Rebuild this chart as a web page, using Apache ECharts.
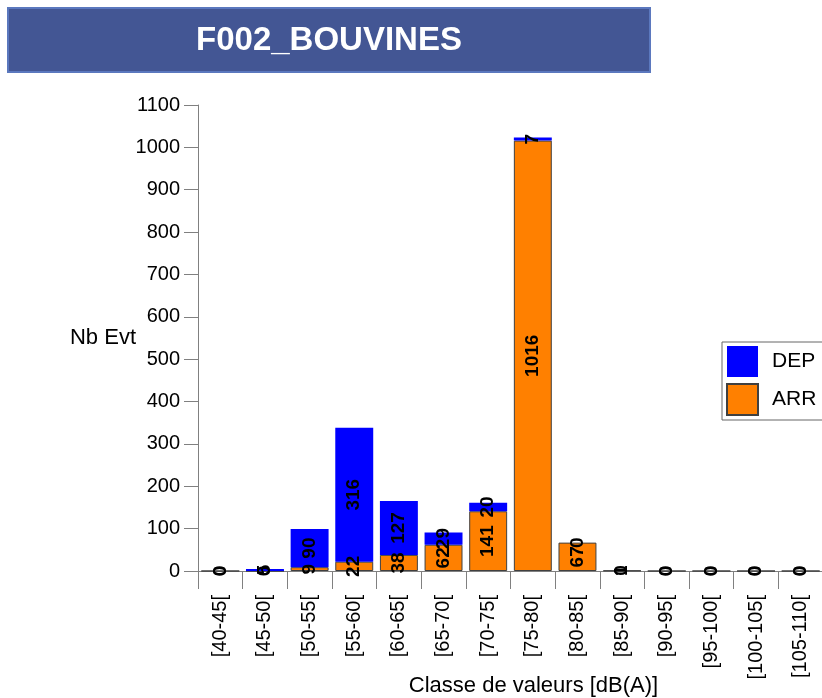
<!DOCTYPE html>
<html>
<head>
<meta charset="utf-8">
<script src="https://cdn.jsdelivr.net/npm/echarts@6/dist/echarts.min.js"></script>
<style>
  html, body { margin: 0; padding: 0; background: #fff; }
  #chart { width: 822px; height: 698px; }
</style>
</head>
<body>
<div id="chart"></div>
<script>
const titleText = 'F002_BOUVINES';
const categories = ['[40-45[', '[45-50[', '[50-55[', '[55-60[', '[60-65[', '[65-70[', '[70-75[', '[75-80[', '[80-85[', '[85-90[', '[90-95[', '[95-100[', '[100-105[', '[105-110['];
const arrValues = [0, 0, 9, 22, 38, 62, 141, 1016, 67, 1, 0, 0, 0, 0];
const depValues = [0, 5, 90, 316, 127, 29, 20, 7, 0, 0, 0, 0, 0, 0];
const yTicks = { min: 0, max: 1100, interval: 100 };

const FONT = 'Liberation Sans, Arial, sans-serif';
const chart = echarts.init(document.getElementById('chart'), null, { renderer: 'canvas' });

const labelStyle = {
  show: true,
  position: 'inside',
  rotate: 90,
  color: '#000',
  fontFamily: FONT,
  fontWeight: 'bold',
  fontSize: 19,
  formatter: p => String(p.value)
};

chart.setOption({
  animation: false,
  backgroundColor: '#fff',
  graphic: [
    {
      type: 'rect',
      shape: { x: 8, y: 8, width: 642, height: 64 },
      style: { fill: '#435694', stroke: '#5b78be', lineWidth: 2 },
      z: 10
    },
    {
      type: 'text',
      x: 329, y: 41,
      style: {
        text: titleText,
        fill: '#fff',
        font: 'bold 33px ' + FONT,
        textAlign: 'center',
        textVerticalAlign: 'middle'
      },
      z: 11
    }
  ],
  legend: {
    data: ['DEP', 'ARR'],
    orient: 'vertical',
    left: 722,
    top: 342,
    itemWidth: 31,
    itemHeight: 31,
    itemGap: 6,
    padding: [4, 30, 4, 4],
    borderColor: '#666',
    borderWidth: 1,
    backgroundColor: '#fff',
    icon: 'rect',
    textStyle: { fontFamily: FONT, fontSize: 21, color: '#000', padding: [0, 0, 0, 9] }
  },
  grid: { left: 198, top: 105, width: 625, height: 466, containLabel: false, outerBoundsMode: 'none' },
  xAxis: {
    type: 'category',
    data: categories,
    boundaryGap: true,
    name: 'Classe de valeurs [dB(A)]',
    nameLocation: 'middle',
    nameGap: 104,
    nameMoveOverlap: false,
    nameTextStyle: { fontFamily: FONT, fontSize: 22, color: '#000', padding: [0, 0, 0, 46] },
    axisLine: { show: true, lineStyle: { color: '#808080', width: 1 } },
    axisTick: { show: true, length: 18, alignWithLabel: false, lineStyle: { color: '#808080' } },
    axisLabel: { rotate: 90, margin: 24, fontFamily: FONT, fontSize: 20, color: '#000', interval: 0 },
    splitLine: { show: false }
  },
  yAxis: {
    type: 'value',
    min: yTicks.min,
    max: yTicks.max,
    interval: yTicks.interval,
    name: 'Nb Evt',
    nameLocation: 'middle',
    nameRotate: 0,
    nameGap: 62,
    nameMoveOverlap: false,
    nameTextStyle: { fontFamily: FONT, fontSize: 22, color: '#000', align: 'right' },
    axisLine: { show: true, lineStyle: { color: '#808080', width: 1 } },
    axisTick: { show: true, length: 14, lineStyle: { color: '#808080' } },
    axisLabel: { margin: 18, fontFamily: FONT, fontSize: 20, color: '#000', formatter: v => String(v) },
    splitLine: { show: false }
  },
  series: [
    {
      name: 'ARR',
      type: 'bar',
      stack: 'total',
      data: arrValues,
      barCategoryGap: '15%',
      itemStyle: { color: '#ff8000', borderColor: '#404040', borderWidth: 1 },
      label: labelStyle
    },
    {
      name: 'DEP',
      type: 'bar',
      stack: 'total',
      data: depValues,
      barCategoryGap: '15%',
      itemStyle: { color: '#0000ff', borderWidth: 0 },
      label: labelStyle
    }
  ]
});
</script>
</body>
</html>
